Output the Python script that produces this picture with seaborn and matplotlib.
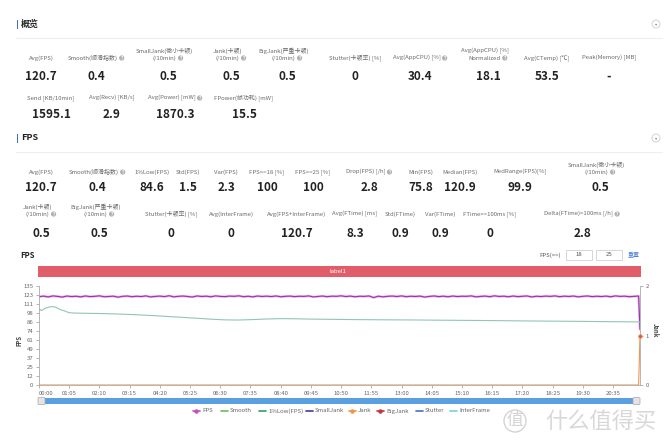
import matplotlib
matplotlib.use("Agg")
import matplotlib.pyplot as plt
import seaborn as sns
from matplotlib.patches import Rectangle, Circle, FancyBboxPatch

# ---- summary cards ("概览") ----
OVERVIEW_LABELS_1 = ["Avg(FPS)", "Smooth(顺滑指数)", "SmallJank(微小卡顿)\n(/10min)", "Jank(卡顿)\n(/10min)",
                     "BigJank(严重卡顿)\n(/10min)", "Stutter(卡顿率) [%]", "Avg(AppCPU) [%]",
                     "Avg(AppCPU) [%]\nNormalized", "Avg(CTemp) [℃]", "Peak(Memory) [MB]"]
OVERVIEW_VALUES_1 = [120.7, 0.4, 0.5, 0.5, 0.5, 0, 30.4, 18.1, 53.5, None]
OVERVIEW_HELP_1 = [False, True, True, True, True, False, True, True, False, False]

OVERVIEW_LABELS_2 = ["Send [KB/10min]", "Avg(Recv) [KB/s]", "Avg(Power) [mW]", "FPower(帧功耗) [mW]"]
OVERVIEW_VALUES_2 = [1595.1, 2.9, 1870.3, 15.5]
OVERVIEW_HELP_2 = [False, False, True, False]

# ---- FPS cards ----
FPS_LABELS_1 = ["Avg(FPS)", "Smooth(顺滑指数)", "1%Low(FPS)", "Std(FPS)", "Var(FPS)", "FPS>=18 [%]",
                "FPS>=25 [%]", "Drop(FPS) [/h]", "Min(FPS)", "Median(FPS)", "MedRange(FPS)[%]",
                "SmallJank(微小卡顿)\n(/10min)"]
FPS_VALUES_1 = [120.7, 0.4, 84.6, 1.5, 2.3, 100, 100, 2.8, 75.8, 120.9, 99.9, 0.5]
FPS_HELP_1 = [False, True, False, False, False, False, False, True, False, False, False, True]

FPS_LABELS_2 = ["Jank(卡顿)\n(/10min)", "BigJank(严重卡顿)\n(/10min)", "Stutter(卡顿率) [%]", "Avg(InterFrame)",
                "Avg(FPS+InterFrame)", "Avg(FTime) [ms]", "Std(FTime)", "Var(FTime)", "FTime>=100ms [%]",
                "Delta(FTime)>100ms [/h]"]
FPS_VALUES_2 = [0.5, 0.5, 0, 0, 120.7, 8.3, 0.9, 0.9, 0, 2.8]
FPS_HELP_2 = [True, True, False, False, False, False, False, False, False, True]

# ---- chart series (time in seconds) ----
FPS_VALUES = [120.4, 121.2, 120.1, 121.5, 120.8, 119.9, 121.3, 120.6, 121.0, 120.2,
              121.4, 120.5, 120.9, 121.6, 120.3, 120.7, 121.1, 119.8, 120.9, 121.3,
              120.4, 121.0, 120.6, 121.5, 120.1, 120.8, 121.2, 120.5, 121.7, 120.2,
              120.9, 121.3, 120.6, 120.0, 121.4, 120.7, 121.1, 120.3, 121.5, 120.8,
              120.5, 121.2, 120.9, 121.6, 120.4, 121.0, 120.2, 121.3, 120.7, 121.1,
              120.6, 121.4, 120.3, 120.9, 121.2, 120.5, 121.0, 120.8, 121.5, 120.1,
              120.7, 121.3, 120.4, 121.1, 120.9, 121.6, 120.6, 121.2, 120.3, 121.0,
              120.8, 121.4, 119.2, 121.1, 120.2, 120.9, 121.3, 120.6, 121.5, 120.4,
              121.0, 120.7, 121.2, 119.9, 120.8, 121.4, 120.5, 121.1, 120.3, 121.3,
              120.6, 121.0, 120.9, 121.5, 120.2, 120.8, 121.2, 120.4, 121.6, 120.7,
              121.1, 120.3, 121.3, 120.5, 120.9, 121.4, 120.1, 121.0, 120.6, 121.2,
              120.8, 121.5, 120.4, 121.1, 120.7, 121.3, 120.2, 120.9, 121.4, 120.5,
              121.0, 120.6, 121.2, 120.3, 121.5, 120.8, 121.1, 120.4, 120.9, 121.3,
              75.8]
FPS_TIME = [i * 10 for i in range(130)] + [1293]

LOW_TIME = [0, 5, 15, 25, 35, 45, 55, 65, 80, 100, 130, 160, 190, 220, 250, 280, 310, 340, 370,
            400, 430, 460, 490, 520, 550, 580, 620, 680, 740, 800, 860, 920, 980, 1040, 1100,
            1160, 1220, 1293]
LOW_VALUES = [104.0, 101.5, 105.0, 106.8, 106.5, 103.0, 101.0, 98.5, 98.0, 97.8, 97.5, 97.0,
              96.3, 95.5, 94.5, 93.3, 92.2, 91.0, 89.8, 88.8, 88.6, 89.2, 90.0, 90.5, 90.3,
              89.9, 89.6, 89.2, 88.9, 88.7, 88.4, 88.1, 87.8, 87.4, 87.1, 86.8, 86.4, 86.0]

JANK_TIME = [0, 1290, 1293]
JANK_VALUES = [0, 0, 1]

Y_TICKS = [0, 12, 25, 37, 49, 61, 74, 86, 98, 111, 123, 135]
X_TICK_LABELS = ["00:00", "01:05", "02:10", "03:15", "04:20", "05:25", "06:30", "07:35", "08:40",
                 "09:45", "10:50", "11:55", "13:00", "14:05", "15:10", "16:15", "17:20", "18:25",
                 "19:30", "20:35"]

LEGEND_NAMES = ["FPS", "Smooth", "1%Low(FPS)", "SmallJank", "Jank", "BigJank", "Stutter", "InterFrame"]
LEGEND_COLORS = ["#c64fbf", "#6abf5a", "#2e9e72", "#3b3aa8", "#f0954a", "#c8323a", "#3f74c4", "#6fd8c8"]
LEGEND_MARKERS = [True, False, False, False, True, True, False, False]

sns.set_theme(style="white")
plt.rcParams["font.family"] = ["Noto Sans CJK SC", "DejaVu Sans"]

W, H = 670, 447
fig = plt.figure(figsize=(6.7, 4.47), dpi=100)
bg = fig.add_axes([0, 0, 1, 1])
bg.set_xlim(0, W)
bg.set_ylim(H, 0)
bg.axis("off")

LABEL_C = "#6a6a6a"
VALUE_C = "#222222"


def fmt(v):
    if v is None:
        return "-"
    if float(v).is_integer():
        return str(int(v))
    return f"{v:.1f}"


pending_icons = []


def card_row(xs, labels, values, helps, y_label, y_value, vsize=8.5):
    for x, lab, val, hlp in zip(xs, labels, values, helps):
        lines = lab.split("\n")
        shift = -3.5 if hlp else 0
        for k, line in enumerate(lines):
            yy = y_label - 7 * (len(lines) - 1 - k)
            t = bg.text(x + shift, yy, line, fontsize=4.3, color=LABEL_C, ha="center", va="center")
            if hlp and k == len(lines) - 1:
                pending_icons.append((t, yy))
        bg.text(x, y_value, fmt(val), fontsize=vsize, color=VALUE_C, ha="center", va="center",
                fontweight="bold")


def section_header(y, title):
    bg.add_patch(Rectangle((16.5, y - 4.5), 1.6, 9, color="#3f6fd1", lw=0))
    bg.text(21, y, title, fontsize=6.5, fontweight="bold", color="#222222", va="center", ha="left")
    bg.plot([16, 662], [y + 13.5, y + 13.5], color="#eeeeee", lw=0.8)
    bg.add_patch(Circle((656, y), 4, fill=False, ec="#cccccc", lw=0.6))
    bg.text(656, y + 0.3, "▾", fontsize=3.2, color="#888888", ha="center", va="center",
            family=["DejaVu Sans"])


section_header(24, "概览")
card_row([41, 96, 168, 231, 287, 355, 420, 488, 547, 609],
         OVERVIEW_LABELS_1, OVERVIEW_VALUES_1, OVERVIEW_HELP_1, 58, 76)
card_row([51, 112, 175, 244], OVERVIEW_LABELS_2, OVERVIEW_VALUES_2, OVERVIEW_HELP_2, 98, 114)

section_header(138, "FPS")
card_row([41, 97, 152, 188, 226, 267, 313, 369, 421, 460, 520, 600],
         FPS_LABELS_1, FPS_VALUES_1, FPS_HELP_1, 172, 187.5)
card_row([41, 99, 171, 231, 297, 355, 400, 440, 490, 582],
         FPS_LABELS_2, FPS_VALUES_2, FPS_HELP_2, 214, 233.5)

# ---- chart header ----
bg.text(20, 256, "FPS", fontsize=5.5, fontweight="bold", color="#222222", va="center")
bg.text(561, 255, "FPS(>=)", fontsize=4.3, color="#555555", ha="right", va="center")
for bx, txt in [(566, "18"), (596, "25")]:
    bg.add_patch(Rectangle((bx, 250), 26, 10, fill=False, ec="#d0d0d0", lw=0.6))
    bg.text(bx + 13, 255, txt, fontsize=4.3, color="#555555", ha="center", va="center")
bg.text(634, 255, "重置", fontsize=4.3, color="#4a7fd4", ha="center", va="center")
bg.add_patch(Rectangle((38, 266), 603, 11, color="#e05d69", lw=0))
bg.text(338, 271.5, "label1", fontsize=4.3, color="white", ha="center", va="center")

# ---- chart ----
ax = fig.add_axes([39 / W, 1 - 385 / H, 601 / W, 99 / H])
ax.set_facecolor("none")
sns.lineplot(x=FPS_TIME, y=FPS_VALUES, ax=ax, color="#f3b3ea", lw=1.8)
sns.lineplot(x=FPS_TIME, y=FPS_VALUES, ax=ax, color="#8f3aa6", lw=0.8)
sns.lineplot(x=LOW_TIME, y=LOW_VALUES, ax=ax, color="#8fc6b8", lw=0.8)
ax.set_xlim(0, 1293)
ax.set_ylim(0, 135)
ax.set_yticks(Y_TICKS)
ax.set_yticklabels([str(v) for v in Y_TICKS])
x_pos = [int(s[:2]) * 60 + int(s[3:]) for s in X_TICK_LABELS]
ax.set_xticks(x_pos)
ax.set_xticklabels(X_TICK_LABELS)
ax.get_xticklabels()[0].set_horizontalalignment("left")
ax.tick_params(axis="both", length=2, width=0.5, color="#999999", labelsize=4.3,
               labelcolor="#666666", pad=2)
ax.tick_params(axis="y", left=True)
ax.tick_params(axis="x", bottom=True)
for side in ["top", "right"]:
    ax.spines[side].set_visible(False)
for side in ["left", "bottom"]:
    ax.spines[side].set_color("#aaaaaa")
    ax.spines[side].set_linewidth(0.6)
ax.set_xlabel("")
ax.set_ylabel("")

ax2 = ax.twinx()
sns.lineplot(x=JANK_TIME, y=JANK_VALUES, ax=ax2, color="#f0954a", lw=0.8)
sns.scatterplot(x=JANK_TIME[-1:], y=JANK_VALUES[-1:], ax=ax2, color="#e4573c", s=7,
                edgecolor="#f0954a", linewidth=0.5, zorder=5, clip_on=False)
ax2.set_ylim(0, 2)
ax2.set_yticks([0, 1, 2])
ax2.tick_params(axis="y", right=True, length=2, width=0.5, color="#999999", labelsize=4.3,
                labelcolor="#666666", pad=2)
for side in ["top", "left", "bottom"]:
    ax2.spines[side].set_visible(False)
ax2.spines["right"].set_color("#aaaaaa")
ax2.spines["right"].set_linewidth(0.6)
ax2.set_ylabel("")
ax2.grid(False)
ax.grid(False)

bg.text(19, 340, "FPS", fontsize=4.3, fontweight="bold", color="#444444", rotation=90,
        ha="center", va="center")
bg.text(655, 330, "Jank", fontsize=4.3, fontweight="bold", color="#444444", rotation=270,
        ha="center", va="center")

# ---- zoom slider ----
bg.add_patch(Rectangle((39, 398), 601, 6, color="#5a9fe0", lw=0))
for hx in [38, 633]:
    bg.add_patch(FancyBboxPatch((hx, 397.5), 7, 7, boxstyle="round,pad=0,rounding_size=1",
                                fc="#e4e4e4", ec="#a8a8a8", lw=0.5))

# ---- legend ----
leg_x = [196, 224, 262, 309, 352, 380, 419, 453]
for x, name, col, mk in zip(leg_x, LEGEND_NAMES, LEGEND_COLORS, LEGEND_MARKERS):
    bg.plot([x - 3.5, x + 3.5], [411, 411], color=col, lw=1.2, solid_capstyle="round")
    if mk:
        bg.plot([x], [411], marker="o", ms=2.2, color=col)
    bg.text(x + 6, 411, name, fontsize=4.3, color="#666666", va="center", ha="left")

# ---- watermark ----
bg.add_patch(Circle((515, 421), 11, fill=False, ec="#d4d4d4", lw=1.0))
bg.text(515, 421, "值", fontsize=12, color="#d4d4d4", ha="center", va="center")
bg.text(545, 421, "什么值得买", fontsize=16, color="#d8d8d8", ha="left", va="center")

# ---- help icons placed after their labels ----
fig.canvas.draw()
renderer = fig.canvas.get_renderer()
inv = bg.transData.inverted()
for t, yy in pending_icons:
    bb = t.get_window_extent(renderer)
    x1 = inv.transform((bb.x1, bb.y0))[0]
    bg.add_patch(Circle((x1 + 4.2, yy), 2.6, color="#b0b0b0", lw=0))
    bg.text(x1 + 4.2, yy, "?", fontsize=3, color="white", ha="center", va="center",
            fontweight="bold")

fig.savefig("out.png", dpi=100)
